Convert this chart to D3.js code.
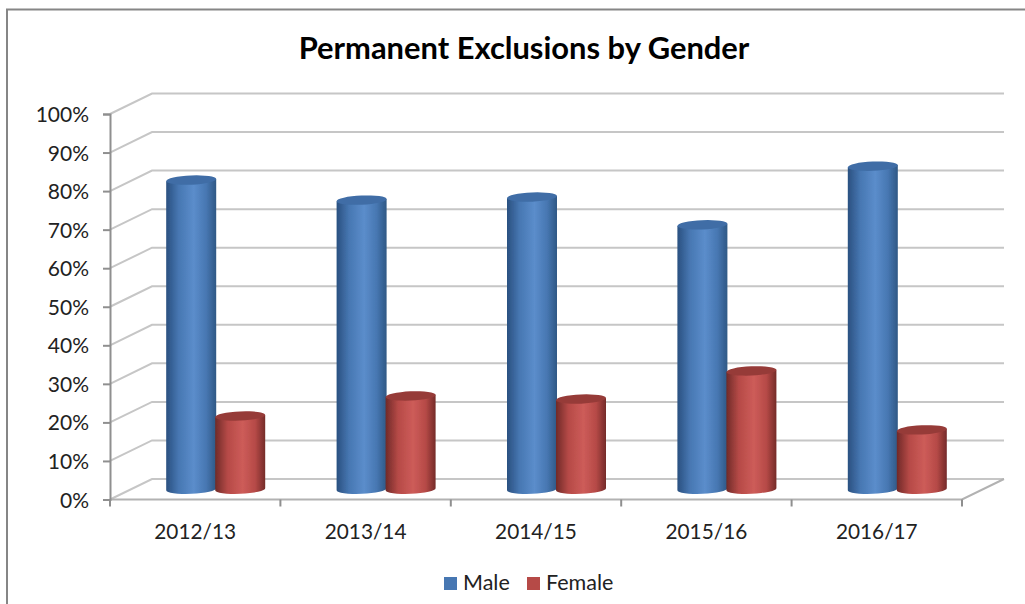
<!DOCTYPE html>
<html><head><meta charset="utf-8">
<script src="https://cdn.jsdelivr.net/npm/d3@7/dist/d3.min.js"></script>
<style>html,body{margin:0;padding:0;background:#fff;overflow:hidden}svg{display:block}text{font-family:Lato,"Open Sans",sans-serif;fill:#222}</style>
</head><body><svg id="c" width="1025" height="604"></svg>
<script>
const categories = ["2012/13","2013/14","2014/15","2015/16","2016/17"];
const maleValues = [80.2,75,75.8,68.6,83.8];
const femaleValues = [19,24.2,23.4,30.7,15.4];
const seriesNames = ["Male","Female"];
const tickValues = [0,10,20,30,40,50,60,70,80,90,100];
const titleText = "Permanent Exclusions by Gender";

const svg = d3.select("#c");
const depthX = 42, depthY = -20.5, gridCol = "#c6c6c6", axisCol = "#8f8f8f";
const y = d3.scaleLinear().domain([0,100]).range([499.5,114]);
const x = d3.scaleBand().domain(categories).range([110,962]);
const bar = d3.scaleBand().domain(seriesNames).range([-49.5,48.5]).paddingInner(0);
const colors = {Male:["#2a5080","#4777b2","#5b8dcb","#2f5885","#3f6da6"],
                Female:["#702a28","#b64a47","#cd5c59","#752b29","#963b39"]};

const defs = svg.append("defs");
seriesNames.forEach(s=>{
  const c = colors[s];
  const g = defs.append("linearGradient").attr("id","g"+s);
  [[0,c[0]],[.25,c[1]],[.55,c[2]],[.8,c[1]],[1,c[3]]].forEach(([o,k])=>g.append("stop").attr("offset",o).attr("stop-color",k));
});
defs.append("filter").attr("id","soft").append("feGaussianBlur").attr("stdDeviation",0.45);

// chart-area border
svg.append("path").attr("d","M7,604V9.5H1025").attr("fill","none").attr("stroke","#868686").attr("stroke-width",2);

const plot = svg.append("g").attr("filter","url(#soft)");
// back wall gridlines and slanted side-wall lines
plot.append("g").selectAll("path").data(tickValues).join("path")
  .attr("d",d=>`M${x.range()[0]},${y(d)}l${depthX},${depthY}H${x.range()[1]+depthX}`)
  .attr("fill","none").attr("stroke",gridCol).attr("stroke-width",2);
// floor front and right edge
plot.append("path").attr("d",`M${x.range()[0]},${y(0)}H${x.range()[1]}l${depthX},${depthY}`)
  .attr("fill","none").attr("stroke","#b2b2b2").attr("stroke-width",2);

// cylinders
const rx = 25, tilt = -2.5;
const rad = 4.6, base = y(0)+depthY/2;
const yMid = v => y(v)+depthY/2;
function cyl(cx,v,s){
  const t = yMid(v), dl = 1.1;
  const g = plot.append("g");
  g.append("path")
   .attr("d",`M${cx-rx},${t+dl}V${base+dl}A${rx},${rad} ${tilt} 0 0 ${cx+rx},${base-dl}V${t-dl}Z`)
   .attr("fill",`url(#g${s})`);
  g.append("ellipse").attr("cx",cx).attr("cy",t).attr("rx",rx).attr("ry",rad)
   .attr("transform",`rotate(${tilt} ${cx} ${t})`).attr("fill",colors[s][4]);
}
categories.forEach((c,i)=>{
  const cx0 = x(c)+x.bandwidth()/2+depthX/2;
  cyl(cx0+bar("Male")+bar.bandwidth()/2,maleValues[i],"Male");
  cyl(cx0+bar("Female")+bar.bandwidth()/2,femaleValues[i],"Female");
});

// axes
const yAxis = d3.axisLeft(y).tickValues(tickValues).tickFormat(d=>d+"%").tickSize(7).tickPadding(14);
const gy = svg.append("g").attr("transform",`translate(${x.range()[0]},0)`).call(yAxis);
gy.selectAll("path,line").attr("stroke",axisCol).attr("stroke-width",2);
gy.selectAll("text").style("font-size","21px").attr("dy","0.36em");
const gx = svg.append("g").attr("transform",`translate(0,${y(0)})`);
gx.selectAll("line").data([...categories.map(c=>x(c)),x.range()[1]]).join("line")
  .attr("x1",d=>d).attr("x2",d=>d).attr("y1",0).attr("y2",7).attr("stroke",axisCol).attr("stroke-width",2);
gx.selectAll("text").data(categories).join("text")
  .attr("x",c=>x(c)+x.bandwidth()/2).attr("y",39).attr("text-anchor","middle").style("font-size","20.8px").text(c=>c);

// title
svg.append("text").attr("x",524).attr("y",59).attr("text-anchor","middle")
  .style("font-size","30.9px").style("font-weight","700").style("fill","#000").text(titleText);

// legend
const legendX = d3.scalePoint().domain(seriesNames).range([444,527]);
const lg = svg.append("g").selectAll("g").data(seriesNames).join("g")
  .attr("transform",d=>`translate(${legendX(d)},577)`);
lg.append("rect").attr("width",13).attr("height",13).attr("fill",d=>colors[d][1]);
lg.append("text").attr("x",19).attr("y",13).style("font-size","21.5px").text(d=>d);
</script></body></html>
